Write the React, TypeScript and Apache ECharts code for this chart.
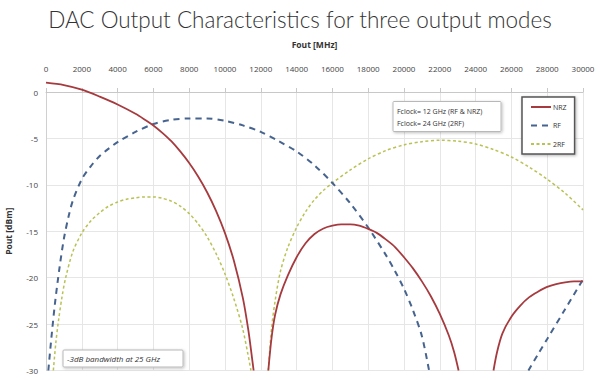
import React, { useEffect, useRef } from "react";
import * as echarts from "echarts";

const xTicks = { min: 0, max: 30000, interval: 2000 };
const yTicks = { min: -30, max: 0, interval: 5 };

// NRZ (solid) — null marks a gap between lobes
const nrzX = [0, 1000, 2000, 3000, 4000, 5000, 5500, 6000, 6500, 7000, 7500, 8000, 8500, 9000, 9500, 10000, 10500, 11000, 11300, 11500, 11600,
  12000,
  12420, 12600, 12800, 13100, 13500, 14000, 14500, 15000, 15500, 16000, 16500, 17000, 17500, 18000, 18500, 19000,
  19500, 20000, 20500, 21000, 21500, 22000, 22500, 22800, 23050,
  24000,
  25000, 25200, 25500, 26000, 26500, 27000, 27500, 28000, 28500, 29000, 29500, 30000];
const nrzY = [1.0, 0.75, 0.25, -0.5, -1.35, -2.35, -2.95, -3.6, -4.4, -5.3, -6.4, -7.65, -9.1, -10.8, -12.8, -15.2, -18.2, -22.2, -25.6, -28.5, -30,
  null,
  -30, -26.5, -24.0, -21.8, -19.8, -17.8, -16.3, -15.3, -14.7, -14.4, -14.25, -14.25, -14.4, -14.75, -15.2, -15.9,
  -16.7, -17.8, -19.0, -20.4, -22.0, -23.9, -26.2, -28.0, -30,
  null,
  -30, -28.0, -26.0, -24.2, -23.0, -22.1, -21.5, -21.0, -20.7, -20.5, -20.4, -20.4];

// RF (dashed)
const rfX = [130, 300, 500, 750, 1000, 1250, 1500, 2000, 2500, 3000, 3500, 4000, 5000, 6000, 7000, 8000, 9000,
  10000, 11000, 12000, 13000, 14000, 15000, 16000, 17000, 18000, 19000, 19500, 20000, 20500, 21000, 21400,
  24000,
  26950, 27500, 28000, 29000, 30000];
const rfY = [-30, -26.5, -22.8, -19.0, -15.8, -13.5, -11.7, -9.4, -8.0, -6.9, -6.1, -5.4, -4.3, -3.45, -3.0, -2.85, -2.85,
  -3.1, -3.6, -4.3, -5.3, -6.4, -7.9, -9.8, -12.0, -14.6, -17.6, -19.3, -21.2, -23.5, -26.3, -30,
  null,
  -30, -28.2, -26.6, -23.4, -20.2];

// 2RF (dotted)
const rf2X = [410, 550, 700, 900, 1100, 1500, 2000, 2500, 3000, 3500, 4000, 4500, 5000, 5500, 6000, 6500, 7000,
  7500, 8000, 8500, 9000, 9500, 10000, 10500, 11000, 11450,
  12000,
  12420, 12600, 12800, 13100, 13500, 14000, 14500, 15000, 15500, 16000, 17000, 18000, 19000, 20000, 21000, 22000,
  23000, 24000, 25000, 26000, 27000, 28000, 29000, 30000];
const rf2Y = [-30, -27.0, -24.6, -22.0, -20.0, -17.2, -15.2, -13.9, -13.0, -12.3, -11.85, -11.55, -11.4, -11.3, -11.3, -11.45, -11.75,
  -12.3, -13.1, -14.2, -15.6, -17.4, -19.6, -22.3, -25.6, -30,
  null,
  -30, -25.5, -22.5, -19.3, -16.8, -14.6, -12.9, -11.6, -10.6, -9.8, -8.4, -7.2, -6.3, -5.7, -5.35, -5.2,
  -5.3, -5.6, -6.2, -7.0, -8.1, -9.4, -10.9, -12.7];

const seriesNames = ["NRZ", "RF", "2RF"];
const titleText = "DAC Output Characteristics for three output modes";
const noteLines = ["Fclock= 12 GHz (RF & NRZ)", "Fclock= 24 GHz (2RF)"];
const bwNote = "-3dB bandwidth at 25 GHz";

const pairs = (xs: number[], ys: (number | null)[]) =>
  xs.map((x, i) => [x, ys[i] === null ? "-" : ys[i]]);

export default function App() {
  const ref = useRef<HTMLDivElement>(null);
  useEffect(() => {
    if (!ref.current) return;
    const chart = echarts.init(ref.current, null, { renderer: "svg" });
    const font = "'Open Sans', 'Liberation Sans', sans-serif";
    const lineSeries = (name: string, data: any[], color: string, width: number, type: any, z: number) => ({
      name,
      type: "line",
      data,
      smooth: 0.3,
      showSymbol: false,
      symbol: "none",
      clip: false,
      connectNulls: false,
      lineStyle: { color, width, type },
      itemStyle: { color },
      z,
    });
    const boxStyle = {
      fill: "#ffffff",
      stroke: "#b8b8b8",
      lineWidth: 1,
      shadowBlur: 3,
      shadowColor: "rgba(0,0,0,0.25)",
      shadowOffsetX: 1,
      shadowOffsetY: 1,
    };
    chart.setOption({
      animation: false,
      backgroundColor: "#ffffff",
      title: {
        text: titleText,
        left: "center",
        top: 3,
        textStyle: { fontFamily: "Lato, 'Open Sans', sans-serif", fontSize: 22.5, fontWeight: 300, color: "#333333" },
      },
      grid: { left: 46, right: 17, top: 92, bottom: 9.5, containLabel: false, outerBoundsMode: "none" },
      legend: {
        data: seriesNames,
        orient: "vertical",
        left: 522,
        top: 97,
        padding: [6, 8, 6, 8],
        itemGap: 10.5,
        itemWidth: 20,
        itemHeight: 10,
        backgroundColor: "#ffffff",
        borderColor: "#555555",
        borderWidth: 1.5,
        shadowBlur: 3,
        shadowColor: "rgba(0,0,0,0.3)",
        shadowOffsetX: 1,
        shadowOffsetY: 1,
        itemStyle: { color: "transparent", borderColor: "transparent", borderWidth: 0, opacity: 0 },
        textStyle: { fontFamily: font, fontSize: 7, color: "#333", padding: [0, 0, 0, -3] },
      },
      xAxis: {
        type: "value",
        position: "top",
        min: xTicks.min,
        max: xTicks.max,
        interval: xTicks.interval,
        name: "Fout [MHz]",
        nameLocation: "middle",
        nameGap: 43,
        nameTextStyle: { fontFamily: font, fontSize: 8.5, fontWeight: "bold", color: "#333" },
        axisLine: { show: true, onZero: false, lineStyle: { color: "#c8c8c8", width: 1 } },
        axisTick: { show: true, length: 4, lineStyle: { color: "#c8c8c8" } },
        axisLabel: { margin: 20, fontFamily: font, fontSize: 8, color: "#444", formatter: (v: number) => String(v) },
        splitLine: { show: true, lineStyle: { color: "#e6e6e6", width: 1 } },
      },
      yAxis: {
        type: "value",
        min: yTicks.min,
        max: yTicks.max,
        interval: yTicks.interval,
        name: "Pout [dBm]",
        nameLocation: "middle",
        nameGap: 33,
        nameRotate: 90,
        nameTextStyle: { fontFamily: font, fontSize: 8.5, fontWeight: "bold", color: "#333" },
        axisLine: { show: true, lineStyle: { color: "#d0d0d0", width: 1 } },
        axisTick: { show: false },
        axisLabel: { margin: 8, fontFamily: font, fontSize: 8, color: "#444" },
        splitLine: { show: true, lineStyle: { color: "#e6e6e6", width: 1 } },
      },
      series: [
        lineSeries("NRZ", pairs(nrzX, nrzY), "#a63a3e", 1.8, "solid", 4),
        lineSeries("RF", pairs(rfX, rfY), "#46648f", 2, [6, 5], 3),
        lineSeries("2RF", pairs(rf2X, rf2Y), "#b9c254", 1.5, [3, 2.5], 2),
      ],
      graphic: {
        zlevel: 1,
        z: 100,
        elements: [
          { type: "rect", z: 100, shape: { x: 393, y: 101.5, width: 108, height: 30, r: 1 }, style: boxStyle },
          {
            type: "text", z: 101, x: 397, y: 111,
            style: { text: noteLines[0], fontFamily: font, fontSize: 7, fill: "#333", verticalAlign: "middle" },
          },
          {
            type: "text", z: 101, x: 397, y: 123,
            style: { text: noteLines[1], fontFamily: font, fontSize: 7, fill: "#333", verticalAlign: "middle" },
          },
          { type: "rect", z: 100, shape: { x: 63, y: 350, width: 120, height: 17, r: 1 }, style: boxStyle },
          {
            type: "text", z: 101, x: 67, y: 358.5,
            style: { text: bwNote, fontFamily: font, fontSize: 8, fontStyle: "italic", fill: "#333", verticalAlign: "middle" },
          },
        ],
      },
    });
    return () => chart.dispose();
  }, []);
  return <div ref={ref} style={{ position: "fixed", left: 0, top: 0, width: 600, height: 380 }} />;
}
